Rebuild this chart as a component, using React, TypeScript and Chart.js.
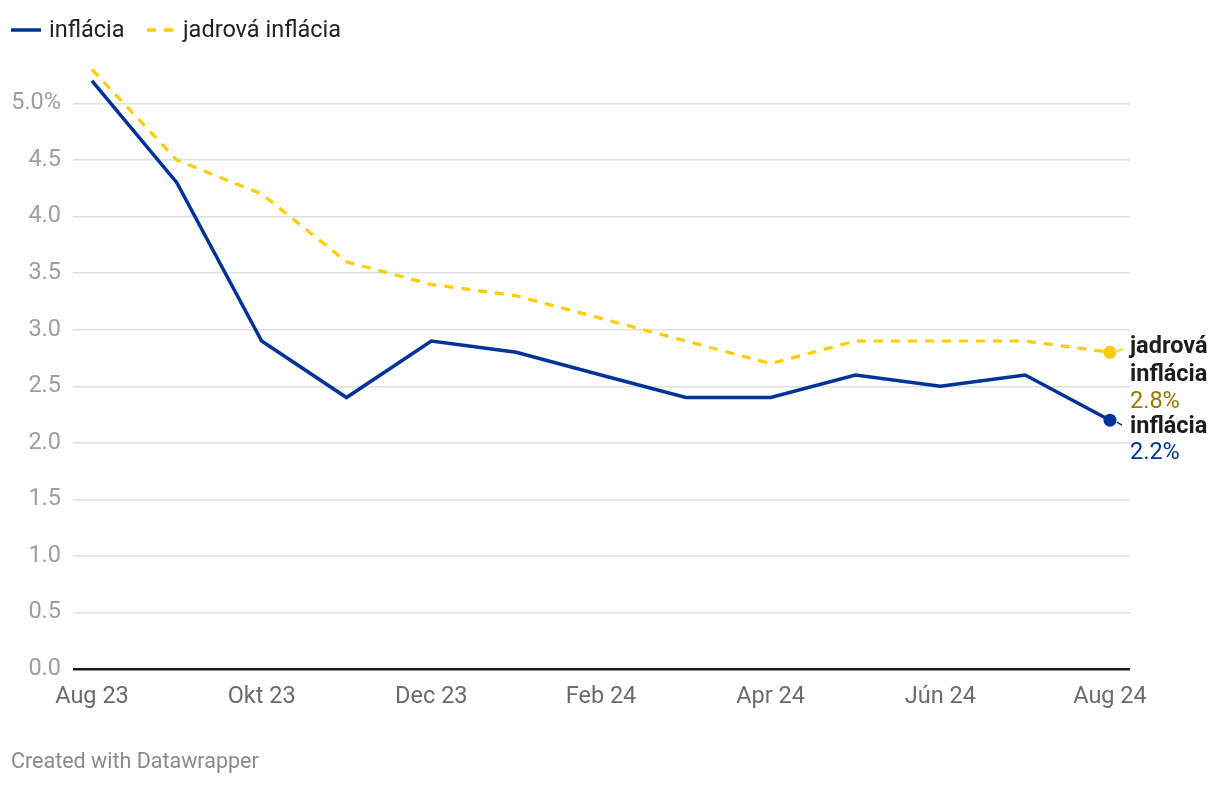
import React, { useEffect, useRef } from 'react';
import { Chart, registerables } from 'chart.js';

Chart.register(...registerables);

const months = ['Aug 23', 'Sep 23', 'Okt 23', 'Nov 23', 'Dec 23', 'Jan 24', 'Feb 24', 'Mar 24', 'Apr 24', 'Máj 24', 'Jún 24', 'Júl 24', 'Aug 24'];
const inflacia = [5.2, 4.3, 2.9, 2.4, 2.9, 2.8, 2.6, 2.4, 2.4, 2.6, 2.5, 2.6, 2.2];
const jadrova = [5.3, 4.5, 4.2, 3.6, 3.4, 3.3, 3.1, 2.9, 2.7, 2.9, 2.9, 2.9, 2.8];
const xTickIndices = [0, 2, 4, 6, 8, 10, 12];
const yTickValues = [0, 0.5, 1, 1.5, 2, 2.5, 3, 3.5, 4, 4.5, 5];

const BLUE = '#003399';
const YELLOW = '#ffcc00';
const GOLD = '#977800';
const FONT = 'Roboto, "Noto Sans", sans-serif';

export default function App() {
  const ref = useRef<HTMLCanvasElement | null>(null);

  useEffect(() => {
    if (!ref.current) return;
    const last = months.length - 1;

    const overlay = {
      id: 'overlay',
      afterDraw(chart: any) {
        const ctx = chart.ctx;
        const xs = chart.scales.x;
        const ys = chart.scales.y;
        ctx.save();
        // Legend
        ctx.lineWidth = 3.5;
        ctx.strokeStyle = BLUE;
        ctx.beginPath();
        ctx.moveTo(11, 30);
        ctx.lineTo(41, 30);
        ctx.stroke();
        ctx.strokeStyle = YELLOW;
        ctx.setLineDash([9, 8]);
        ctx.beginPath();
        ctx.moveTo(147, 30);
        ctx.lineTo(174, 30);
        ctx.stroke();
        ctx.setLineDash([]);
        ctx.font = `23.5px ${FONT}`;
        ctx.fillStyle = '#222';
        ctx.textBaseline = 'middle';
        ctx.textAlign = 'left';
        ctx.fillText('inflácia', 49, 31);
        ctx.fillText('jadrová inflácia', 183, 31);

        // Footer
        ctx.font = `21.5px ${FONT}`;
        ctx.fillStyle = '#8a8a8a';
        ctx.fillText('Created with Datawrapper', 11, 763);

        // End labels
        const px = xs.getPixelForValue(last);
        const yY = ys.getPixelForValue(jadrova[last]);
        const bY = ys.getPixelForValue(inflacia[last]);
        ctx.lineWidth = 1.5;
        ctx.strokeStyle = YELLOW;
        ctx.beginPath();
        ctx.moveTo(px + 7, yY - 1);
        ctx.lineTo(px + 13, yY - 3);
        ctx.stroke();
        ctx.strokeStyle = BLUE;
        ctx.beginPath();
        ctx.moveTo(px + 7, bY + 2);
        ctx.lineTo(px + 12, bY + 5);
        ctx.stroke();

        const lx = 1130;
        ctx.font = `bold 23.5px ${FONT}`;
        ctx.fillStyle = '#1d1d1d';
        ctx.fillText('jadrová', lx, yY - 5);
        ctx.fillText('inflácia', lx, yY + 23);
        ctx.font = `23.5px ${FONT}`;
        ctx.fillStyle = GOLD;
        ctx.fillText(jadrova[last].toFixed(1) + '%', lx, yY + 50);
        ctx.font = `bold 23.5px ${FONT}`;
        ctx.fillStyle = '#1d1d1d';
        ctx.fillText('inflácia', lx, bY + 7);
        ctx.font = `23.5px ${FONT}`;
        ctx.fillStyle = BLUE;
        ctx.fillText(inflacia[last].toFixed(1) + '%', lx, bY + 33);
        ctx.restore();
      },
    };

    const chart = new Chart(ref.current, {
      type: 'line',
      data: {
        datasets: [
          {
            label: 'jadrová inflácia',
            data: jadrova.map((v, i) => ({ x: i, y: v })),
            borderColor: YELLOW,
            backgroundColor: YELLOW,
            borderWidth: 3.2,
            borderDash: [9, 8],
            pointRadius: (c: any) => (c.dataIndex === last ? 6.5 : 0),
            pointBorderWidth: 0,
            pointHoverRadius: 0,
            tension: 0,
            clip: false,
          },
          {
            label: 'inflácia',
            data: inflacia.map((v, i) => ({ x: i, y: v })),
            borderColor: BLUE,
            backgroundColor: BLUE,
            borderWidth: 3.5,
            pointRadius: (c: any) => (c.dataIndex === last ? 6.5 : 0),
            pointBorderWidth: 0,
            pointHoverRadius: 0,
            tension: 0,
            clip: false,
          },
        ],
      },
      options: {
        responsive: false,
        animation: false,
        devicePixelRatio: 1,
        events: [],
        layout: { padding: { top: 103.5, right: 90, bottom: 57, left: 0 } },
        plugins: {
          legend: { display: false },
          tooltip: { enabled: false },
        },
        scales: {
          x: {
            type: 'linear',
            min: -0.224,
            max: 12.236,
            grid: { display: false, drawTicks: false },
            border: { display: false },
            afterBuildTicks: (s: any) => {
              s.ticks = xTickIndices.map((v) => ({ value: v }));
            },
            afterFit: (s: any) => {
              s.height = 60;
            },
            ticks: {
              autoSkip: false,
              maxRotation: 0,
              padding: 14,
              color: '#6b6b6b',
              font: { family: FONT, size: 23.5 },
              callback: (v: any) => months[v as number],
            },
          },
          y: {
            min: 0,
            max: 5,
            border: { display: false },
            afterBuildTicks: (s: any) => {
              s.ticks = yTickValues.map((v) => ({ value: v }));
            },
            afterFit: (s: any) => {
              s.width = 73;
            },
            grid: {
              drawTicks: false,
              color: (c: any) => (c.tick && c.tick.value === 0 ? '#1a1a1a' : '#e0e0e0'),
              lineWidth: (c: any) => (c.tick && c.tick.value === 0 ? 2.5 : 1.5),
            },
            ticks: {
              padding: 12,
              color: '#9e9e9e',
              font: { family: FONT, size: 23.5 },
              callback: (v: any) => (v === 5 ? '5.0%' : Number(v).toFixed(1)),
            },
          },
        },
      },
      plugins: [overlay],
    } as any);

    return () => chart.destroy();
  }, []);

  return (
    <div style={{ position: 'fixed', left: 0, top: 0, width: 1220, height: 786, background: '#fff' }}>
      <canvas ref={ref} width={1220} height={786} style={{ width: 1220, height: 786 }} />
    </div>
  );
}
